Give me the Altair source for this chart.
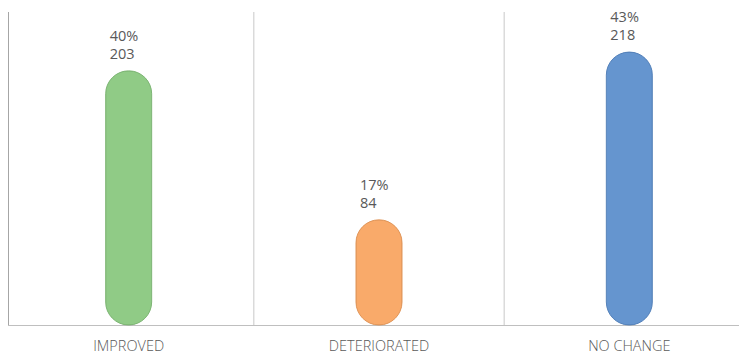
import altair as alt
import pandas as pd

categories = ["IMPROVED", "DETERIORATED", "NO CHANGE"]
counts = [203, 84, 218]
percents = ["40%", "17%", "43%"]
colors = ["#90CB86", "#F9AA6A", "#6595CF"]
strokes = ["#7DB574", "#E0965A", "#5582BA"]

df = pd.DataFrame({"cat": categories, "count": counts, "pct": percents})

x = alt.X("cat:N", sort=categories, title=None,
          scale=alt.Scale(paddingInner=0, paddingOuter=0),
          axis=alt.Axis(labelAngle=0, ticks=False, grid=False, domainColor="#BFBFBF",
                        labelColor="#595959", labelFontSize=14.5, labelPadding=14,
                        labelAlign="center", labelBaseline="top", labelFont="Open Sans",
                        labelFontWeight=300))
y = alt.Y("count:Q", scale=alt.Scale(domain=[0, 250]), axis=None)

base = alt.Chart(df)

rules = base.mark_rule(color="#C8C8C8", strokeWidth=1).encode(
    x=alt.X("cat:N", sort=categories, bandPosition=0),
    y=alt.value(0), y2=alt.value(313)
)

left_rule = base.mark_rule(color="#A6A6A6", strokeWidth=1).encode(
    x=alt.value(5), y=alt.value(0), y2=alt.value(313)
)

bars = base.mark_bar(width=46, cornerRadius=23, strokeWidth=1).encode(
    x=x, y=y,
    color=alt.Color("cat:N", sort=categories, scale=alt.Scale(domain=categories, range=colors), legend=None),
    stroke=alt.Stroke("cat:N", sort=categories, scale=alt.Scale(domain=categories, range=strokes), legend=None),
)

cnt = base.mark_text(align="left", baseline="alphabetic", dx=-19, dy=-12, fontSize=14.5,
                     color="#595959", font="Open Sans").encode(
    x=alt.X("cat:N", sort=categories), y=y, text="count:Q")
pct = base.mark_text(align="left", baseline="alphabetic", dx=-19, dy=-30, fontSize=14.5,
                     color="#595959", font="Open Sans").encode(
    x=alt.X("cat:N", sort=categories), y=y, text="pct:N")

chart = alt.layer(rules, left_rule, bars, cnt, pct).properties(
    width=751, height=313,
    autosize=alt.AutoSizeParams(type="none"),
    padding={"top": 4, "left": -4.5, "right": -15.5, "bottom": 29},
).configure_view(stroke=None)

chart.save("out.html", embed_options={"renderer": "svg", "actions": False})
